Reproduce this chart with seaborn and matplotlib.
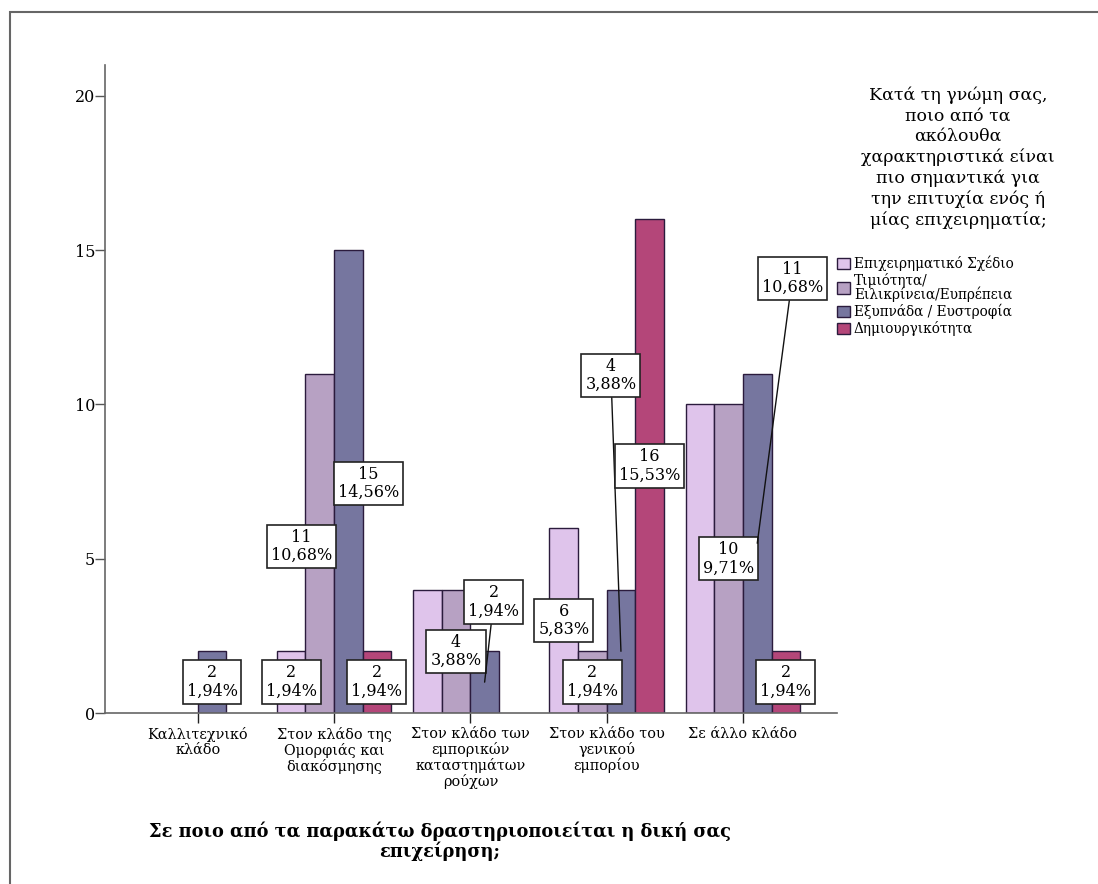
import numpy as np
import pandas as pd
import matplotlib
matplotlib.use("Agg")
import matplotlib.pyplot as plt
from matplotlib.patches import Rectangle
import seaborn as sns

# ── Data ─────────────────────────────────────────────────────────────────────
sectors = [
    "Καλλιτεχνικό\nκλάδο",
    "Στον κλάδο της\nΟμορφιάς και\nδιακόσμησης",
    "Στον κλάδο των\nεμπορικών\nκαταστημάτων\nρούχων",
    "Στον κλάδο του\nγενικού\nεμπορίου",
    "Σε άλλο κλάδο",
]
traits = [
    "Επιχειρηματικό Σχέδιο",
    "Τιμιότητα/\nΕιλικρίνεια/Ευπρέπεια",
    "Εξυπνάδα / Ευστροφία",
    "Δημιουργικότητα",
]
plan_counts = [0, 2, 4, 6, 10]
honesty_counts = [0, 11, 4, 2, 10]
smart_counts = [2, 15, 2, 4, 11]
creative_counts = [0, 2, 0, 16, 2]

y_ticks = [0, 5, 10, 15, 20]
legend_title = ("Κατά τη γνώμη σας,\nποιο από τα\nακόλουθα\nχαρακτηριστικά είναι\n"
                "πιο σημαντικά για\nτην επιτυχία ενός ή\nμίας επιχειρηματία;")
x_title = "Σε ποιο από τα παρακάτω δραστηριοποιείται η δική σας\nεπιχείρηση;"

colors = ["#E2BDF2", "#B89BC9", "#6F6FA6", "#C63478"]

# label placement (pixel offsets from bar middle) – hidden labels marked None
label_offsets = {
    (1, 1): (-18, -3), (1, 2): (20, -2),
    (2, 0): None, (2, 2): (9, 80),
    (3, 2): (-10, 276),
    (4, 0): None, (4, 2): (35, 265),
}
leader_lines = {(2, 2), (3, 2), (4, 2)}

# ── Long table ───────────────────────────────────────────────────────────────
rows = []
for counts, trait in zip([plan_counts, honesty_counts, smart_counts, creative_counts], traits):
    for sector, c in zip(sectors, counts):
        if c > 0:
            rows.append({"sector": sector, "trait": trait, "count": c})
df = pd.DataFrame(rows)
total = df["count"].sum()

# ── Plot ─────────────────────────────────────────────────────────────────────
sns.set_style("white")
plt.rcParams["font.family"] = ["DejaVu Serif", "Liberation Serif"]
plt.rcParams["text.color"] = "black"
plt.rcParams["xtick.color"] = "black"
plt.rcParams["ytick.color"] = "black"

fig = plt.figure(figsize=(10.98, 8.84), dpi=100)
ax = fig.add_axes([105 / 1098, 1 - 713 / 884, 732 / 1098, 648 / 884])

sns.barplot(data=df, x="sector", y="count", hue="trait", order=sectors,
            hue_order=traits, palette=dict(zip(traits, colors)), width=0.84,
            edgecolor="#2B1B3D", linewidth=1.0, ax=ax, legend=True)

ax.set_xlim(-0.68, 4.69)
ax.set_ylim(0, 21)
ax.set_yticks(y_ticks)
ax.set_xlabel("")
ax.set_ylabel("")
ax.tick_params(axis="y", length=7, width=1, color="#555555", labelsize=11.5, pad=0, left=True)
ax.tick_params(axis="x", length=7, width=1, color="#222222", labelsize=10.4, pad=3, bottom=True)
for lbl in ax.get_xticklabels():
    lbl.set_linespacing(1.08)
for s in ["top", "right"]:
    ax.spines[s].set_visible(False)
for s in ["left", "bottom"]:
    ax.spines[s].set_color("#666666")
    ax.spines[s].set_linewidth(1.2)

# ── Value labels ─────────────────────────────────────────────────────────────
for h, container in enumerate(ax.containers):
    for bar in container:
        height = bar.get_height()
        if not height or np.isnan(height):
            continue
        xc = bar.get_x() + bar.get_width() / 2
        cat = int(round(xc))
        key = (cat, h)
        off = label_offsets.get(key, (0, 0))
        if off is None:
            continue
        pct = f"{height / total * 100:.2f}".replace(".", ",")
        arrow = None
        if key in leader_lines:
            arrow = dict(arrowstyle="-", color="#111111", lw=1.0, shrinkA=0, shrinkB=0)
        ax.annotate(f"{int(height)}\n{pct}%", xy=(xc, height / 2),
                    xytext=off, textcoords="offset pixels",
                    ha="center", va="center", fontsize=11.5, linespacing=1.1,
                    bbox=dict(boxstyle="square,pad=0.25", fc="white", ec="#222222", lw=1.2),
                    arrowprops=arrow, zorder=5)

# ── Legend ───────────────────────────────────────────────────────────────────
handles, labels = ax.get_legend_handles_labels()
ax.get_legend().remove()
leg = fig.legend(handles, labels, loc="upper left", bbox_to_anchor=(832 / 1098, 1 - 250 / 884),
                 frameon=False, fontsize=9.8, handlelength=0.9, handleheight=0.9,
                 handletextpad=0.3, labelspacing=0.15, borderaxespad=0)
for t in leg.get_texts():
    t.set_linespacing(0.85)
fig.text(958 / 1098, 1 - 87 / 884, legend_title, ha="center", va="top",
         fontsize=12.5, linespacing=1.25, multialignment="center")

fig.text(440 / 1098, 1 - 841 / 884, x_title, ha="center", va="center",
         fontsize=12.8, fontweight="bold", linespacing=1.05, multialignment="center")

# outer frame (only top/left edges are in view)
fig.patches.append(Rectangle((10 / 1098, -0.2), 2, 1.2 - 12 / 884, fill=False,
                             ec="#666666", lw=1.5, transform=fig.transFigure, figure=fig))

fig.savefig("out.png", dpi=100)
